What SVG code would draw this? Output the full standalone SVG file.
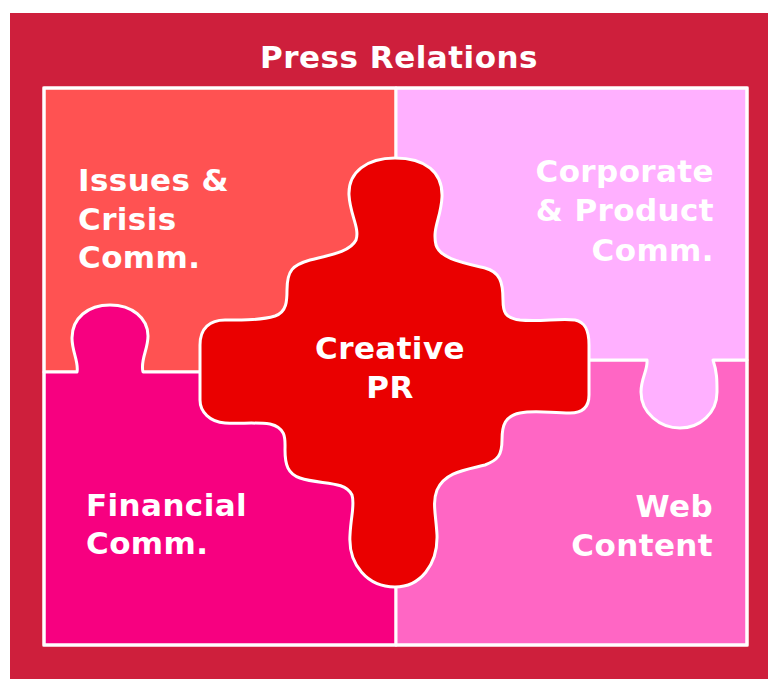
<svg xmlns="http://www.w3.org/2000/svg" width="768" height="679" viewBox="0 0 768 679">
<style>
.t{font-family:"DejaVu Sans","Verdana",sans-serif;font-weight:bold;fill:#fff;font-size:31px;letter-spacing:0.4px}
.tile{stroke:#fff;stroke-width:3;stroke-linejoin:round}
</style>
<rect x="10" y="13" width="760" height="670" fill="#CE1F3C"/>
<text class="t" x="399" y="68" text-anchor="middle" style="font-size:31px;letter-spacing:0.5px">Press Relations</text>
<g id="issues">
<rect class="tile" x="44" y="88" width="352" height="284" fill="#FF5252"/>
<text class="t" x="78" y="191">Issues &amp;</text>
<text class="t" x="78" y="230">Crisis</text>
<text class="t" x="78" y="268">Comm.</text>
</g>
<g id="financial">
<path class="tile" fill="#F70080" d="M44 372 L77 372 C79 362 72 352 72 338 C72 318 88 305 110 305 C132 305 148 318 148 336 C148 350 140 360 143 372 L396 372 L396 645 L44 645 Z"/>
<text class="t" x="86" y="516">Financial</text>
<text class="t" x="86" y="554">Comm.</text>
</g>
<g id="web">
<rect class="tile" x="396" y="360" width="351" height="285" fill="#FF66C4"/>
<text class="t" x="713" y="517" text-anchor="end">Web</text>
<text class="t" x="713" y="556" text-anchor="end">Content</text>
</g>
<g id="corporate">
<path class="tile" fill="#FFB0FF" d="M396 88 L747 88 L747 360 L713 360 C717 372 717 380 717 392 C717 413 700 428 680 428 C660 428 641 413 641 392 C641 378 648 370 647 360 L396 360 Z"/>
<text class="t" x="714" y="182" text-anchor="end">Corporate</text>
<text class="t" x="714" y="221" text-anchor="end">&amp; Product</text>
<text class="t" x="714" y="261" text-anchor="end">Comm.</text>
</g>
<g id="creative">
<path class="tile" fill="#EA0000" d="M395 158 C425 158 443 172 442 197 C441 218 432 228 436 245 C440 258 460 262 485 268 C500 272 503 282 503 300 C503 312 505 318 520 320 C540 322 560 318 575 320 C585 322 589 330 589 345 L589 395 C589 408 582 413 570 413 C550 413 535 410 520 413 C505 416 502 425 502 440 C502 455 498 460 485 465 C465 470 445 472 437 490 C432 503 436 515 437 535 C438 565 420 587 395 587 C368 587 348 565 350 535 C351 515 355 505 352 495 C345 480 320 485 300 478 C288 474 285 465 285 450 C285 440 287 428 270 424 C255 422 240 424 225 423 C210 422 200 412 200 400 L200 345 C200 328 210 320 225 320 C245 320 262 320 275 316 C287 312 287 300 287 290 C287 270 293 265 310 260 C330 255 350 252 356 240 C360 228 350 215 349 195 C348 172 367 158 395 158 Z"/>
<text class="t" x="390" y="359" text-anchor="middle">Creative</text>
<text class="t" x="390" y="398" text-anchor="middle">PR</text>
</g>
<g id="connectors"/>
<rect x="44" y="88" width="703" height="557" fill="none" stroke="#fff" stroke-width="3"/>
</svg>
